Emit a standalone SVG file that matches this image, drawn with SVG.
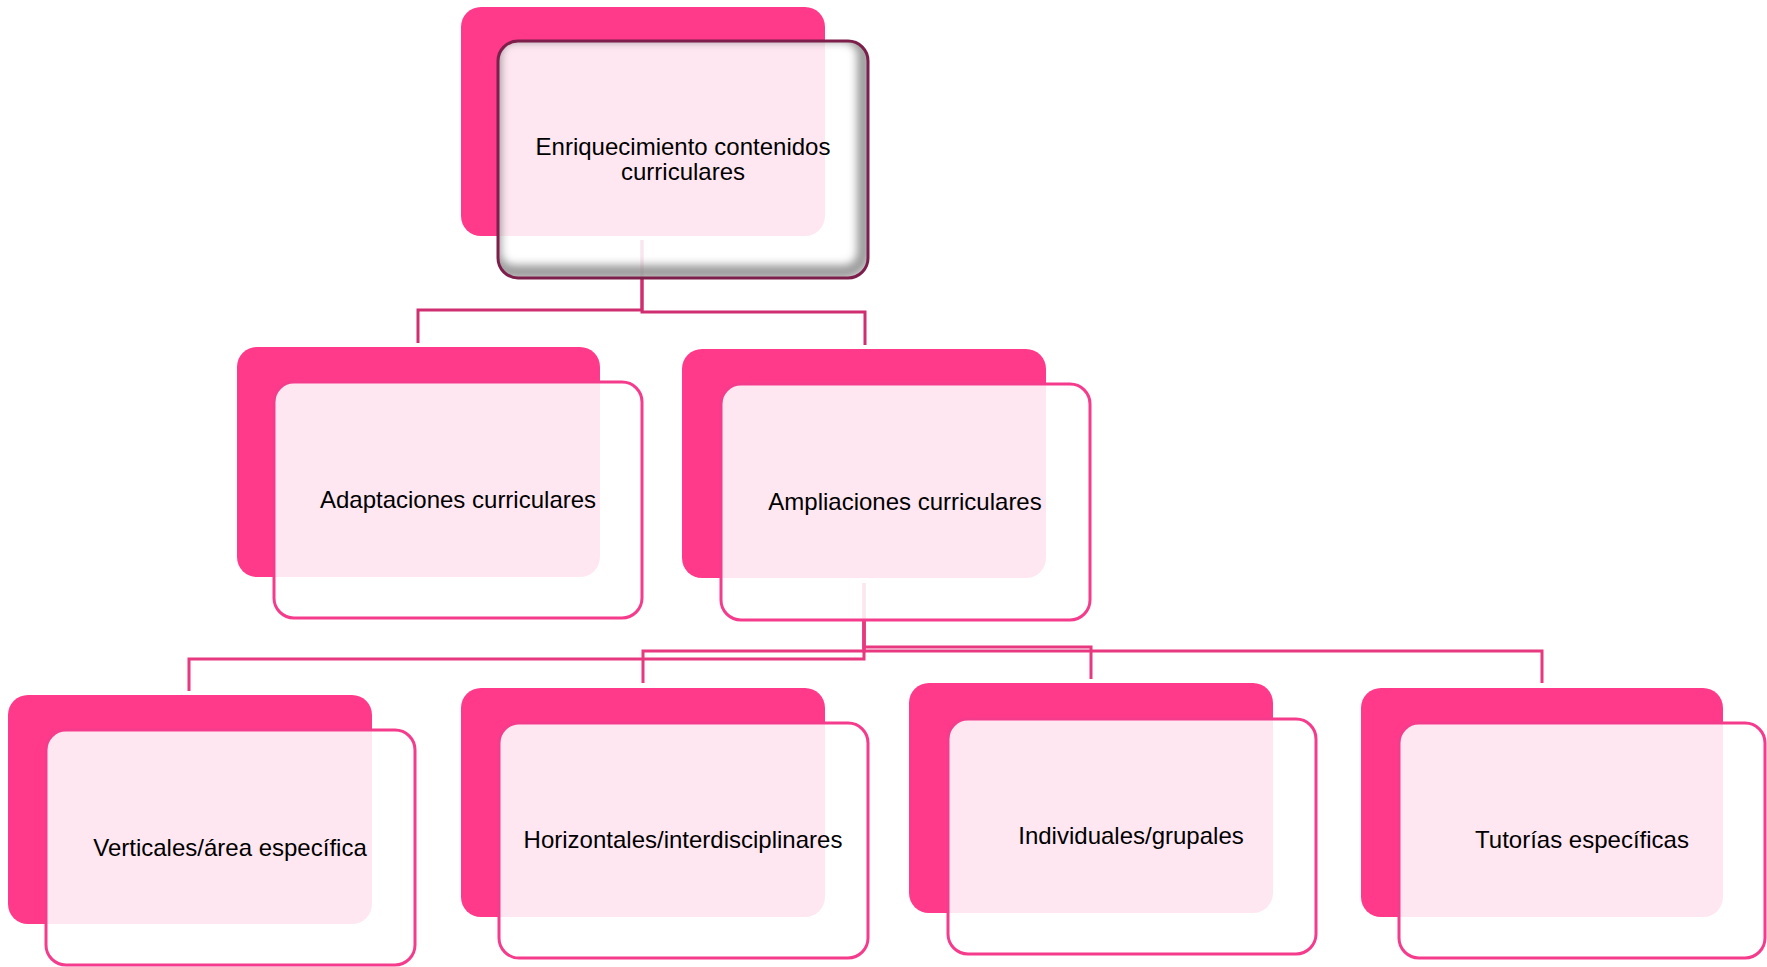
<svg xmlns="http://www.w3.org/2000/svg" width="1767" height="967" viewBox="0 0 1767 967">
  <style>
    .back { fill: #ff3a8a; }
    .front { fill: #ffffff; fill-opacity: 0.88; stroke: #f53c8c; stroke-width: 3; }
    .lbl { font-family: "Liberation Sans", Arial, sans-serif; font-size: 24px; fill: #000000; text-anchor: middle; }
    .conTop { fill: none; stroke: #cf2f71; stroke-width: 3; }
    .conBot { fill: none; stroke: #e8387f; stroke-width: 3; }
  </style>
  <defs>
    <clipPath id="topClip">
      <rect x="498" y="41" width="370" height="237" rx="20" ry="20"/>
    </clipPath>
    <filter id="blur" x="-10%" y="-10%" width="120%" height="120%">
      <feGaussianBlur stdDeviation="4"/>
    </filter>
  </defs>
  <rect width="1767" height="967" fill="#ffffff"/>

  <g id="connectors">
    <path class="conTop" d="M642,240 V310 H418 V343"/>
    <path class="conTop" d="M642,240 V312 H865 V345"/>
    <path class="conBot" d="M864,583 V659 H189 V691"/>
    <path class="conBot" d="M864,583 V651 H643 V683"/>
    <path class="conBot" d="M864,583 V647 H1091 V679"/>
    <path class="conBot" d="M864,583 V651 H1542 V683"/>
  </g>

  <g id="node-enriquecimiento">
    <rect class="back" x="461" y="7" width="364" height="229" rx="20" ry="20"/>
    <rect x="498" y="41" width="370" height="237" rx="20" ry="20" fill="#ffffff" fill-opacity="0.88"/>
    <g clip-path="url(#topClip)">
      <rect x="494" y="35" width="370" height="237" rx="20" ry="20" fill="none" stroke="#7a7a7a" stroke-width="14" stroke-opacity="0.75" filter="url(#blur)"/>
    </g>
    <rect x="498" y="41" width="370" height="237" rx="20" ry="20" fill="none" stroke="#7d1e4b" stroke-width="3"/>
    <text class="lbl" x="683" y="155">Enriquecimiento contenidos</text>
    <text class="lbl" x="683" y="180">curriculares</text>
  </g>

  <g id="node-adaptaciones">
    <rect class="back" x="237" y="347" width="363" height="230" rx="20" ry="20"/>
    <rect class="front" x="274" y="382" width="368" height="236" rx="20" ry="20"/>
    <text class="lbl" x="458" y="508">Adaptaciones curriculares</text>
  </g>

  <g id="node-ampliaciones">
    <rect class="back" x="682" y="349" width="364" height="229" rx="20" ry="20"/>
    <rect class="front" x="721" y="384" width="369" height="236" rx="20" ry="20"/>
    <text class="lbl" x="905" y="510">Ampliaciones curriculares</text>
  </g>

  <g id="node-verticales">
    <rect class="back" x="8" y="695" width="364" height="229" rx="20" ry="20"/>
    <rect class="front" x="46" y="730" width="369" height="235" rx="20" ry="20"/>
    <text class="lbl" x="230" y="856">Verticales/área específica</text>
  </g>

  <g id="node-horizontales">
    <rect class="back" x="461" y="688" width="364" height="229" rx="20" ry="20"/>
    <rect class="front" x="499" y="723" width="369" height="235" rx="20" ry="20"/>
    <text class="lbl" x="683" y="848">Horizontales/interdisciplinares</text>
  </g>

  <g id="node-individuales">
    <rect class="back" x="909" y="683" width="364" height="230" rx="20" ry="20"/>
    <rect class="front" x="948" y="719" width="368" height="235" rx="20" ry="20"/>
    <text class="lbl" x="1131" y="844">Individuales/grupales</text>
  </g>

  <g id="node-tutorias">
    <rect class="back" x="1361" y="688" width="362" height="229" rx="20" ry="20"/>
    <rect class="front" x="1399" y="723" width="366" height="235" rx="20" ry="20"/>
    <text class="lbl" x="1582" y="848">Tutorías específicas</text>
  </g>
</svg>
